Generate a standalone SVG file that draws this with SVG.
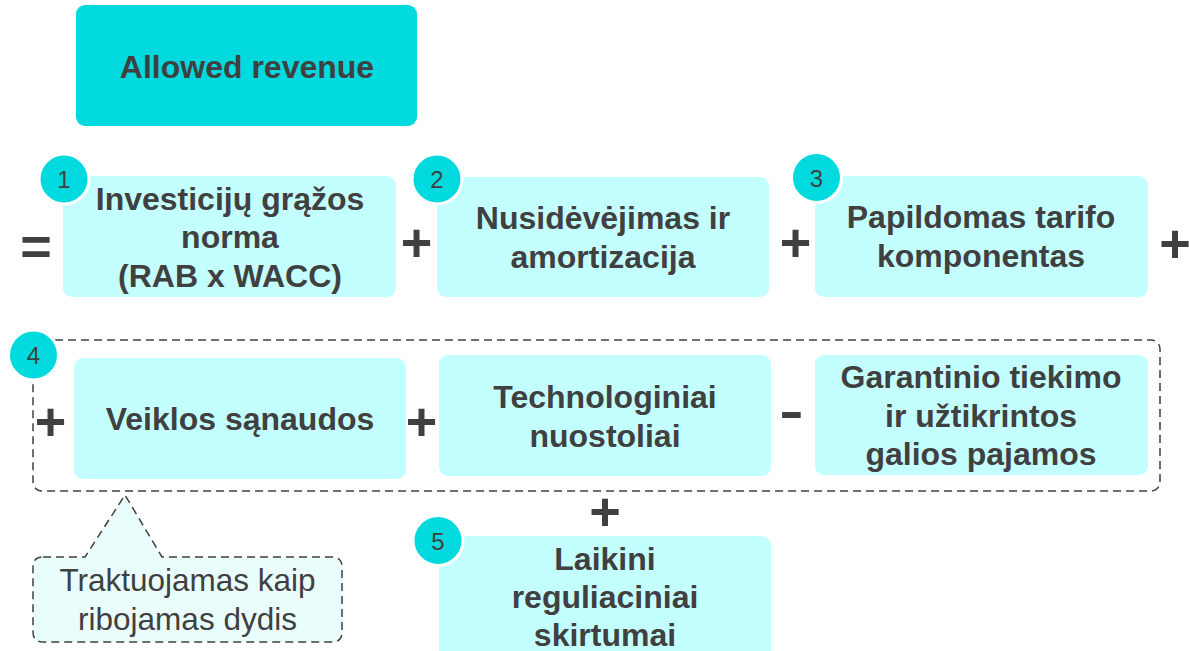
<svg xmlns="http://www.w3.org/2000/svg" width="1189" height="651" viewBox="0 0 1189 651">
  <style>
    .box { fill: #C4FFFF; }
    .top { fill: #00DADE; }
    .lbl { font-family: "Liberation Sans", Arial, sans-serif; font-size: 32px; font-weight: bold; fill: #404040; text-anchor: middle; }
    .num { font-family: "Liberation Sans", Arial, sans-serif; font-size: 24px; fill: #404040; text-anchor: middle; }
    .badge { fill: #00DADE; stroke: #FFFFFF; stroke-width: 3; }
    .op { font-family: "Liberation Sans", Arial, sans-serif; font-size: 54px; font-weight: bold; fill: #404040; text-anchor: middle; }
    .dash { fill: none; stroke: #404040; stroke-width: 1.5; stroke-dasharray: 8 5; }
    .note { font-family: "Liberation Sans", Arial, sans-serif; font-size: 31.5px; fill: #404040; text-anchor: middle; }
  </style>
  <rect width="1189" height="651" fill="#FFFFFF"/>

  <g id="allowed-revenue">
    <rect class="top" x="76" y="5" width="341" height="121" rx="9"/>
    <text class="lbl" x="247" y="78">Allowed revenue</text>
  </g>

  <g id="group-4">
    <rect class="dash" x="33" y="340" width="1127" height="151" rx="9"/>
  </g>

  <g id="node-1">
    <rect class="box" x="63" y="176" width="333" height="121" rx="9"/>
    <text class="lbl" x="230" y="210">Investicijų grąžos</text>
    <text class="lbl" x="230" y="248">norma</text>
    <text class="lbl" x="230" y="287">(RAB x WACC)</text>
    <circle class="badge" cx="64" cy="179" r="25"/>
    <text class="num" x="64" y="188">1</text>
  </g>

  <g id="node-2">
    <rect class="box" x="437" y="177" width="332" height="120" rx="9"/>
    <text class="lbl" x="603" y="229">Nusidėvėjimas ir</text>
    <text class="lbl" x="603" y="268">amortizacija</text>
    <circle class="badge" cx="437" cy="179" r="25"/>
    <text class="num" x="437" y="188">2</text>
  </g>

  <g id="node-3">
    <rect class="box" x="815" y="176" width="333" height="121" rx="9"/>
    <text class="lbl" x="981" y="228">Papildomas tarifo</text>
    <text class="lbl" x="981" y="267">komponentas</text>
    <circle class="badge" cx="816.5" cy="177.5" r="25"/>
    <text class="num" x="816.5" y="186.5">3</text>
  </g>

  <g id="node-4">
    <rect class="box" x="74" y="358" width="332" height="121" rx="9"/>
    <text class="lbl" x="240" y="430">Veiklos sąnaudos</text>
    <circle class="badge" cx="33.5" cy="355" r="25"/>
    <text class="num" x="33.5" y="364">4</text>
  </g>

  <g id="node-tech">
    <rect class="box" x="439" y="355" width="332" height="121" rx="9"/>
    <text class="lbl" x="605" y="408">Technologiniai</text>
    <text class="lbl" x="605" y="447">nuostoliai</text>
  </g>

  <g id="node-garant">
    <rect class="box" x="815" y="355" width="333" height="120" rx="9"/>
    <text class="lbl" x="981" y="388">Garantinio tiekimo</text>
    <text class="lbl" x="981" y="427">ir užtikrintos</text>
    <text class="lbl" x="981" y="465">galios pajamos</text>
  </g>

  <g id="node-5">
    <rect class="box" x="439" y="536" width="332" height="130" rx="9"/>
    <text class="lbl" x="605" y="570">Laikini</text>
    <text class="lbl" x="605" y="608">reguliaciniai</text>
    <text class="lbl" x="605" y="646">skirtumai</text>
    <circle class="badge" cx="438" cy="540.5" r="25"/>
    <text class="num" x="438" y="549.5">5</text>
  </g>

  <g id="callout">
    <path d="M 43 557 L 85 557 L 125 495 L 162 557 L 332 557 Q 342 557 342 567 L 342 632 Q 342 642 332 642 L 43 642 Q 33 642 33 632 L 33 567 Q 33 557 43 557 Z" fill="#EAFDFD" stroke="#404040" stroke-width="1.5" stroke-dasharray="8 5"/>
    <text class="note" x="187.5" y="591">Traktuojamas kaip</text>
    <text class="note" x="187.5" y="630">ribojamas dydis</text>
  </g>

  <g id="connectors">
    <text class="op" x="36" y="265">=</text>
    <text class="op" x="416.5" y="260.5">+</text>
    <text class="op" x="795.5" y="260.5">+</text>
    <text class="op" x="1175" y="261.5">+</text>
    <text class="op" x="50.5" y="439.5">+</text>
    <text class="op" x="421.5" y="439.5">+</text>
    <text class="op" x="791.5" y="435" style="font-size:76px;font-weight:normal">-</text>
    <text class="op" x="605" y="529.5">+</text>
  </g>
</svg>
